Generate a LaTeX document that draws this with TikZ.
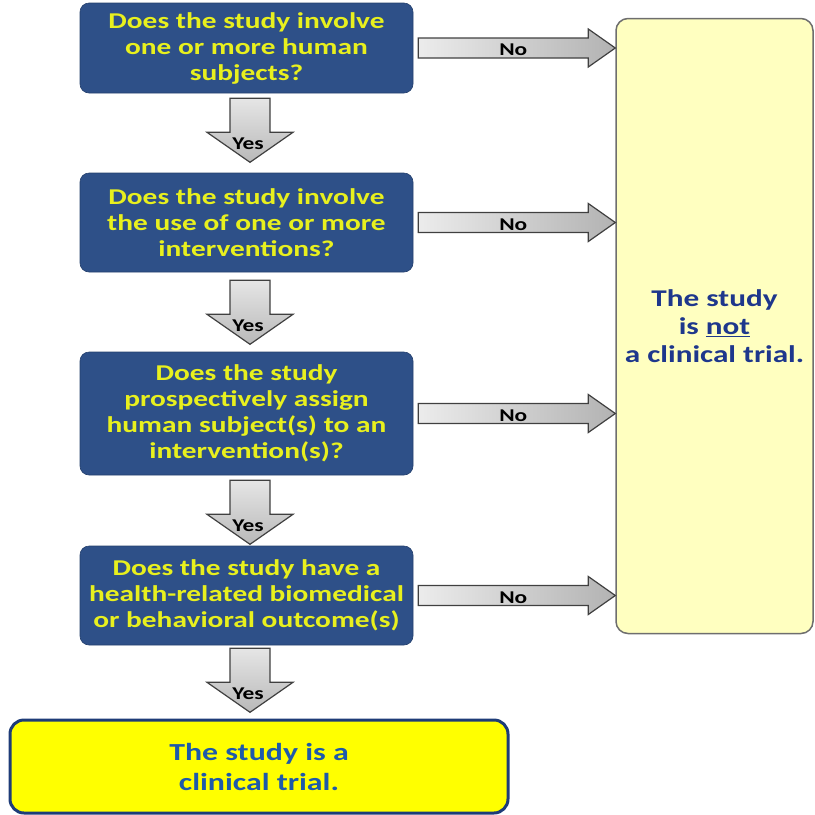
\documentclass[tikz,border=0pt]{standalone}
\usepackage{fontspec}
\setmainfont{Carlito}[FakeStretch=1.3]
\usetikzlibrary{calc}
\definecolor{qblue}{RGB}{46,80,136}
\definecolor{qtext}{RGB}{232,240,30}
\definecolor{ntfill}{RGB}{255,255,192}
\definecolor{ntdraw}{RGB}{110,110,110}
\definecolor{nttext}{RGB}{30,55,140}
\definecolor{ctfill}{RGB}{255,255,0}
\definecolor{ctdraw}{RGB}{30,60,120}
\definecolor{cttext}{RGB}{30,90,170}
\tikzset{
  qbox/.style={fill=qblue, draw=qblue!80!black, line width=0.6pt, rounded corners=9pt,
    minimum width=333pt, align=center, text=qtext, inner sep=0pt,
    font=\bfseries\fontsize{22.6}{26}\selectfont},
  lbl/.style={font=\bfseries\fontsize{18}{20}\selectfont, text=black, inner sep=0pt},
  arrbody/.style={draw=black!75, line width=1.2pt, line join=miter},
  rarr/.pic={
    \path[arrbody, left color=gray!15, right color=gray!60]
      (0,-10) -- (170,-10) -- (170,-19) -- (197,0) -- (170,19) -- (170,10) -- (0,10) -- cycle;
    \node[lbl] at (95,2) {No};
  },
  darr/.pic={
    \path[arrbody, top color=gray!20, bottom color=gray!55]
      (-20,0) -- (-20,34) -- (-43,34) -- (0,64) -- (43,34) -- (20,34) -- (20,0) -- cycle;
    \node[lbl] at (-2,45) {Yes};
  }
}
\begin{document}
\begin{tikzpicture}[x=1pt,y=-1pt]
\useasboundingbox (0,0) rectangle (815,815);

\node[qbox, minimum height=90pt] (q1) at (246.5,48) {Does the study involve\\one or more human\\subjects?};
\node[qbox, minimum height=99pt] (q2) at (246.5,222.5) {Does the study involve\\the use of one or more\\interventions?};
\node[qbox, minimum height=123pt] (q3) at (246.5,413.5) {Does the study\\prospectively assign\\human subject(s) to an\\intervention(s)?};
\node[qbox, minimum height=99pt] (q4) at (246.5,595.5) {Does the study have a\\health-related biomedical\\or behavioral outcome(s)};

\node[fill=ntfill, draw=ntdraw, line width=1.5pt, rounded corners=12pt,
  minimum width=197pt, minimum height=615pt, align=center, text=nttext, inner sep=0pt,
  font=\bfseries\fontsize{24}{28}\selectfont] (nt) at (714.5,326)
  {The study\\is \underline{not}\\a clinical trial.};

\node[fill=ctfill, draw=ctdraw, line width=3pt, rounded corners=14pt,
  minimum width=498pt, minimum height=93pt, align=center, text=cttext, inner sep=0pt,
  font=\bfseries\fontsize{24.5}{30}\selectfont] (ct) at (259,766.5)
  {The study is a\\clinical trial.};

\foreach \q in {q1,q2,q3,q4}{
  \pic at ($(\q.east)+(5,0)$) {rarr};
}
\pic at ($(q1.south)+(3.5,5)$) {darr};
\pic at ($(q2.south)+(3.5,8)$) {darr};
\pic at ($(q3.south)+(3.5,5)$) {darr};
\pic at ($(q4.south)+(3.5,3)$) {darr};
\end{tikzpicture}
\end{document}
